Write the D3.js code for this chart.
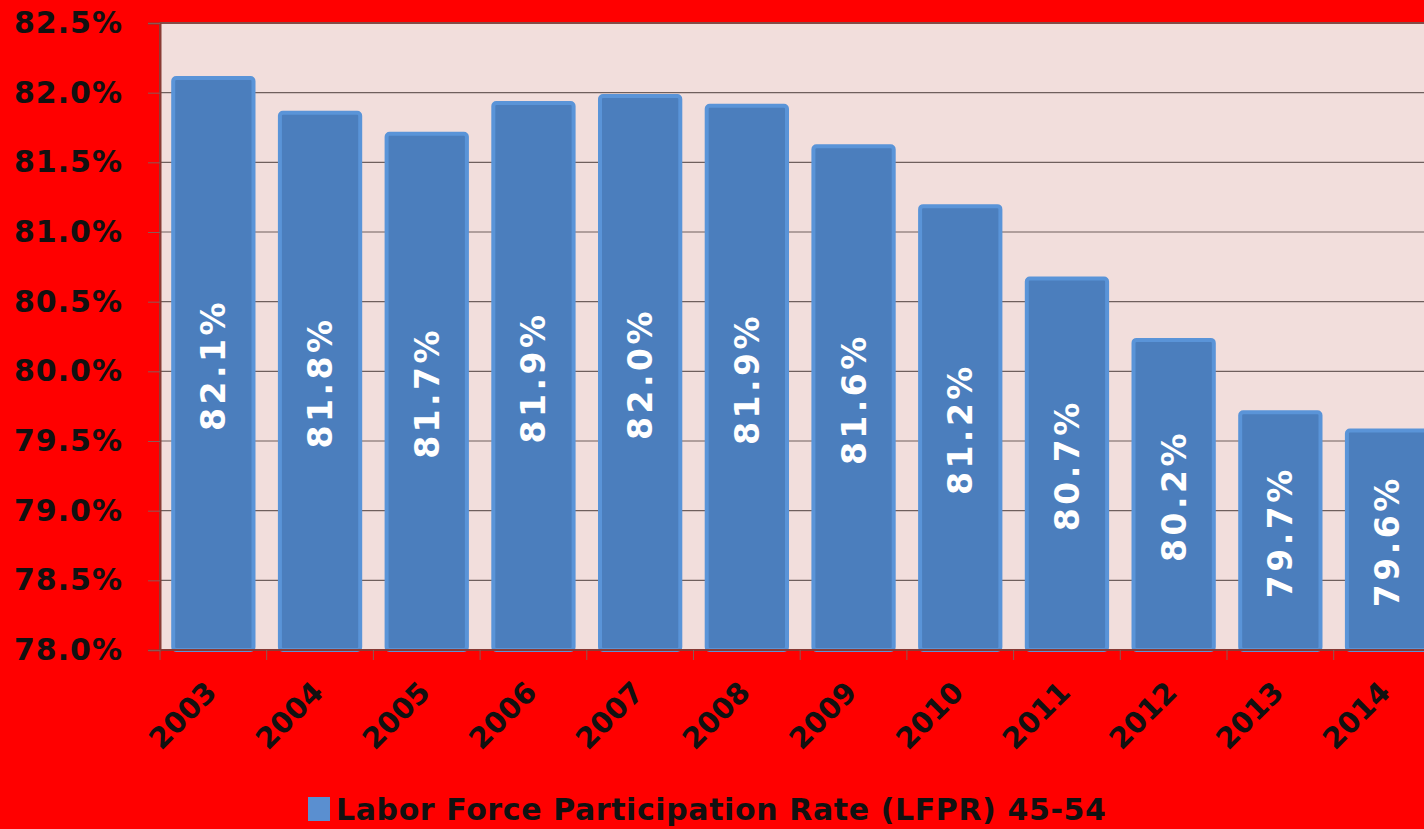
<!DOCTYPE html>
<html>
<head>
<meta charset="utf-8">
<script src="https://cdn.jsdelivr.net/npm/d3@7"></script>
<style>
  body { margin: 0; background: #ff0000; overflow: hidden; }
  text { font-family: "DejaVu Sans", Verdana, sans-serif; font-weight: bold; }
</style>
</head>
<body>
<svg id="chart" width="1424" height="829"></svg>
<script>
// data
const years = ["2003","2004","2005","2006","2007","2008","2009","2010","2011","2012","2013","2014"];
const lfpr = [82.12, 81.87, 81.72, 81.94, 81.99, 81.92, 81.63, 81.20, 80.68, 80.24, 79.72, 79.59];
const barLabels = ["82.1%","81.8%","81.7%","81.9%","82.0%","81.9%","81.6%","81.2%","80.7%","80.2%","79.7%","79.6%"];
const yTicks = [78.0, 78.5, 79.0, 79.5, 80.0, 80.5, 81.0, 81.5, 82.0, 82.5];
const legendLabel = "Labor Force Participation Rate (LFPR) 45-54";

const svg = d3.select("#chart");
const W = 1424, H = 829;
const plotLeft = 160, plotTop = 23, plotBottom = 650;
const plotRight = plotLeft + 12 * 106.7;

svg.append("rect").attr("width", W).attr("height", H).attr("fill", "#ff0000");

let x = d3.scaleBand().domain(years).range([plotLeft, plotRight]).paddingInner(0.21).paddingOuter(0.105);
let y = d3.scaleLinear().domain([78, 82.5]).range([plotBottom, plotTop]);

// plot area
svg.append("rect")
  .attr("x", plotLeft).attr("y", plotTop)
  .attr("width", plotRight - plotLeft).attr("height", plotBottom - plotTop)
  .attr("fill", "#f2dedc")
  .attr("stroke", "#9b3a35").attr("stroke-width", 2);

// gridlines
svg.append("g").selectAll("line")
  .data(yTicks.slice(1))
  .join("line")
  .attr("x1", plotLeft).attr("x2", plotRight)
  .attr("y1", d => y(d)).attr("y2", d => y(d))
  .attr("stroke", "#6f5f5d").attr("stroke-width", 1.2);

// y axis
let yAxis = d3.axisLeft(y).tickValues(yTicks).tickSize(12).tickPadding(25)
  .tickFormat(d => d.toFixed(1) + "%");
let yg = svg.append("g").attr("transform", "translate(" + plotLeft + ",0)").call(yAxis);
yg.select(".domain").attr("stroke", "#8a3a34").attr("stroke-width", 2);
yg.selectAll(".tick line").attr("stroke", "#8a5a55");
yg.selectAll(".tick text")
  .attr("font-size", 30).attr("fill", "#111")
  .attr("font-family", "DejaVu Sans").attr("font-weight", "bold")
  .attr("letter-spacing", 1);

// bars
svg.append("g").selectAll("rect")
  .data(lfpr)
  .join("rect")
  .attr("x", (d, i) => x(years[i]) + 2)
  .attr("y", d => y(d) + 2)
  .attr("width", x.bandwidth() - 4)
  .attr("height", d => plotBottom - y(d) - 2)
  .attr("rx", 3)
  .attr("fill", "#4b7ebd")
  .attr("stroke", "#5a94d8")
  .attr("stroke-width", 4);

// bar value labels
svg.append("g").selectAll("text")
  .data(lfpr)
  .join("text")
  .attr("transform", (d, i) => "translate(" + (x(years[i]) + x.bandwidth() / 2 + 12) + "," + ((y(d) + plotBottom) / 2 + 2) + ") rotate(-90)")
  .attr("text-anchor", "middle")
  .attr("font-size", 33)
  .attr("letter-spacing", 3.5)
  .attr("fill", "#fff")
  .text((d, i) => barLabels[i]);

// x axis
let xAxisLine = svg.append("g");
xAxisLine.append("line")
  .attr("x1", plotLeft).attr("x2", plotRight)
  .attr("y1", plotBottom).attr("y2", plotBottom)
  .attr("stroke", "#8a3a34").attr("stroke-width", 2);
xAxisLine.selectAll(".xt")
  .data(d3.range(13))
  .join("line")
  .attr("x1", i => plotLeft + i * x.step()).attr("x2", i => plotLeft + i * x.step())
  .attr("y1", plotBottom).attr("y2", plotBottom + 10)
  .attr("stroke", "#8a5a55");

svg.append("g").selectAll("text")
  .data(years)
  .join("text")
  .attr("transform", d => "translate(" + (x(d) + x.bandwidth() / 2 + 5) + "," + (plotBottom + 44) + ") rotate(-45)")
  .attr("text-anchor", "end")
  .attr("font-size", 29)
  .attr("fill", "#111")
  .text(d => d);

// legend
let lg = svg.append("g");
lg.append("rect")
  .attr("x", 308).attr("y", 797).attr("width", 22).attr("height", 24)
  .attr("fill", "#5a8fd0");
lg.append("text")
  .attr("x", 336).attr("y", 820)
  .attr("font-size", 30)
  .attr("letter-spacing", 0.6)
  .attr("fill", "#111")
  .text(legendLabel);
</script>
</body>
</html>
